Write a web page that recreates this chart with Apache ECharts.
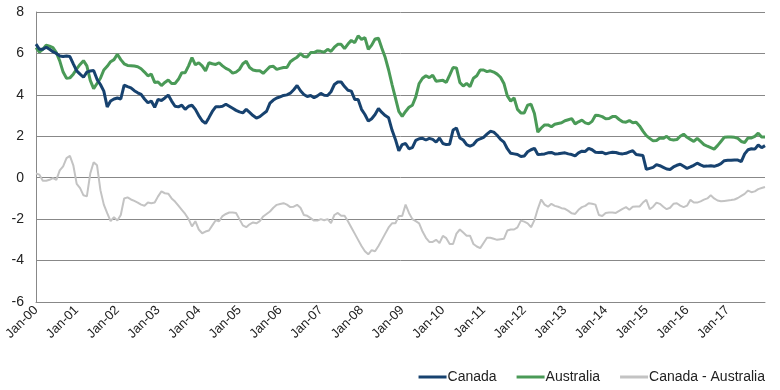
<!DOCTYPE html>
<html>
<head>
<meta charset="utf-8">
<script src="https://cdn.jsdelivr.net/npm/echarts@6/dist/echarts.min.js"></script>
<style>html,body{margin:0;padding:0;background:#fff}#c{width:780px;height:390px}</style>
</head>
<body>
<div id="c"></div>
<script>
const monthNames = ["Jan","Feb","Mar","Apr","May","Jun","Jul","Aug","Sep","Oct","Nov","Dec"];
const years = ["00","01","02","03","04","05","06","07","08","09","10","11","12","13","14","15","16","17"];
const yTicks = [-6, -4, -2, 0, 2, 4, 6, 8];

const canada = [
6.45,6.2,6.2,6.3,6.2,6.08,6.0,5.88,5.85,5.88,5.85,5.5,
5.16,5.0,4.85,5.1,5.15,5.18,4.75,4.5,4.18,3.42,3.7,3.8,
3.85,3.8,4.47,4.4,4.34,4.2,4.1,4.02,3.8,3.62,3.7,3.4,
3.78,3.73,3.85,3.99,3.7,3.45,3.42,3.5,3.3,3.45,3.5,3.3,
3.0,2.75,2.62,2.9,3.2,3.42,3.42,3.45,3.55,3.45,3.35,3.25,
3.18,3.13,3.3,3.15,3.0,2.88,2.95,3.08,3.21,3.6,3.75,3.85,
3.9,3.97,4.0,4.08,4.25,4.45,4.2,4.02,3.92,3.97,3.86,3.95,
4.07,3.98,3.97,4.15,4.5,4.62,4.62,4.4,4.22,4.18,3.78,3.78,
3.3,3.05,2.73,2.85,3.05,3.34,3.15,3.0,2.89,2.3,1.85,1.3,
1.6,1.65,1.4,1.45,1.8,1.88,1.9,1.82,1.9,1.85,1.72,1.92,
1.65,1.6,1.62,2.3,2.4,1.92,1.82,1.6,1.52,1.6,1.8,1.88,
1.95,2.1,2.24,2.2,2.05,1.85,1.72,1.4,1.18,1.15,1.12,1.02,
1.05,1.25,1.35,1.42,1.12,1.13,1.15,1.2,1.22,1.15,1.16,1.18,
1.2,1.15,1.12,1.05,1.2,1.28,1.27,1.42,1.35,1.23,1.22,1.23,
1.15,1.2,1.23,1.22,1.17,1.15,1.18,1.25,1.3,1.12,1.1,1.07,
0.4,0.45,0.5,0.63,0.58,0.5,0.42,0.4,0.52,0.6,0.65,0.55,
0.45,0.52,0.6,0.7,0.62,0.55,0.56,0.58,0.55,0.6,0.68,0.82,
0.84,0.84,0.86,0.85,0.78,1.15,1.35,1.4,1.38,1.58,1.45,1.55
];

const australia = [
6.28,6.07,6.2,6.4,6.35,6.28,6.04,5.64,5.1,4.8,4.82,5.0,
5.25,5.47,5.65,5.4,4.7,4.3,4.55,4.8,5.2,5.38,5.6,5.7,
5.96,5.7,5.5,5.42,5.41,5.39,5.36,5.26,5.1,4.92,5.0,4.6,
4.62,4.45,4.6,4.72,4.55,4.55,4.75,5.07,5.07,5.4,5.8,5.45,
5.55,5.4,5.16,5.55,5.5,5.47,5.55,5.4,5.28,5.2,5.05,5.1,
5.23,5.5,5.62,5.32,5.2,5.16,5.16,5.04,5.2,5.36,5.38,5.23,
5.28,5.32,5.32,5.6,5.72,5.82,5.99,5.85,5.83,6.04,6.04,6.12,
6.1,6.06,6.2,6.1,6.3,6.44,6.44,6.23,6.45,6.63,6.52,6.85,
6.68,6.76,6.2,6.4,6.7,6.73,6.25,5.8,5.2,4.5,3.85,3.2,
2.96,3.2,3.4,3.5,3.9,4.55,4.8,4.92,4.83,4.95,4.66,4.68,
4.7,4.6,4.95,5.32,5.3,4.6,4.43,4.55,4.4,4.8,4.92,5.2,
5.2,5.12,5.16,5.1,5.0,4.85,4.55,3.95,3.7,3.85,3.3,3.13,
3.13,3.5,3.55,3.1,2.2,2.4,2.55,2.55,2.46,2.58,2.62,2.65,
2.75,2.8,2.85,2.6,2.7,2.78,2.65,2.6,2.72,3.02,3.0,2.95,
2.85,2.86,2.95,2.95,2.81,2.7,2.68,2.76,2.65,2.68,2.5,2.25,
2.03,1.9,1.78,1.8,1.92,1.9,2.0,1.85,1.82,1.84,2.0,2.1,
1.95,1.85,1.75,1.9,1.75,1.6,1.52,1.45,1.38,1.55,1.75,1.95,
1.97,1.97,1.95,1.9,1.75,1.7,1.92,1.92,2.0,2.15,1.97,1.97
];

const difference = [
0.2,0.15,-0.15,-0.15,-0.1,-0.02,-0.1,0.35,0.55,0.95,1.05,0.6,
-0.3,-0.5,-0.85,-0.9,0.2,0.75,0.6,-0.6,-1.3,-1.71,-2.1,-1.9,
-2.07,-1.8,-1.0,-0.95,-1.05,-1.12,-1.2,-1.3,-1.35,-1.2,-1.23,-1.2,
-0.9,-0.66,-0.75,-0.77,-1.0,-1.15,-1.35,-1.55,-1.75,-2.0,-2.35,-2.1,
-2.5,-2.68,-2.6,-2.55,-2.3,-2.05,-2.1,-1.85,-1.75,-1.68,-1.68,-1.7,
-2.0,-2.3,-2.39,-2.25,-2.16,-2.2,-2.1,-1.87,-1.75,-1.63,-1.45,-1.31,
-1.27,-1.23,-1.3,-1.42,-1.4,-1.31,-1.45,-1.8,-1.84,-1.95,-2.07,-2.07,
-2.0,-2.05,-2.0,-2.19,-1.8,-1.7,-1.84,-1.84,-2.1,-2.4,-2.7,-3.0,
-3.3,-3.55,-3.7,-3.5,-3.55,-3.3,-3.0,-2.7,-2.4,-2.2,-2.2,-1.85,
-1.85,-1.3,-1.7,-2.0,-2.1,-2.2,-2.6,-2.9,-3.1,-3.1,-3.0,-3.15,
-2.81,-2.92,-3.2,-3.2,-2.7,-2.5,-2.65,-2.8,-2.8,-3.2,-3.32,-3.4,
-3.15,-2.9,-2.9,-2.95,-3.0,-2.97,-2.95,-2.55,-2.5,-2.5,-2.4,-2.07,
-2.12,-2.2,-2.39,-2.05,-1.5,-1.05,-1.3,-1.4,-1.26,-1.36,-1.4,-1.47,
-1.5,-1.6,-1.72,-1.75,-1.55,-1.42,-1.36,-1.23,-1.26,-1.3,-1.8,-1.85,
-1.7,-1.68,-1.68,-1.7,-1.6,-1.5,-1.42,-1.55,-1.4,-1.39,-1.39,-1.2,
-1.07,-1.52,-1.4,-1.2,-1.26,-1.4,-1.52,-1.45,-1.26,-1.23,-1.35,-1.42,
-1.35,-1.07,-1.2,-1.2,-1.14,-1.06,-1.0,-0.85,-1.0,-1.1,-1.14,-1.12,
-1.1,-1.08,-1.05,-0.98,-0.88,-0.78,-0.62,-0.7,-0.66,-0.55,-0.5,-0.45
];

const categories = [];
years.forEach(y => monthNames.forEach(m => categories.push(m + "-" + y)));

const FONT = "'Liberation Sans Narrow', 'Arial Narrow', 'Liberation Sans', sans-serif";
const LINE_ICON = 'path://M0,0 L28,0 L28,3 L0,3 Z';
const chart = echarts.init(document.getElementById('c'), null, {renderer: 'canvas'});
chart.setOption({
  animation: false,
  backgroundColor: '#ffffff',
  grid: {left: 36, right: 15, top: 12, bottom: 88, containLabel: false},
  legend: {
    right: 10, bottom: 1,
    icon: LINE_ICON,
    itemWidth: 28, itemHeight: 3, itemGap: 20,
    textStyle: {fontFamily: FONT, fontSize: 14, color: '#222', padding: [0, 0, 0, -4]},
    data: ['Canada', 'Australia', 'Canada - Australia']
  },
  xAxis: {
    type: 'category',
    data: categories,
    boundaryGap: false,
    axisLine: {onZero: false, lineStyle: {color: '#888', width: 1}},
    axisTick: {show: false},
    axisLabel: {
      interval: 11, rotate: 45, margin: 6,
      fontFamily: FONT, fontSize: 13, color: '#222'
    },
    splitLine: {show: false}
  },
  yAxis: {
    type: 'value',
    min: -6, max: 8, interval: 2,
    axisLine: {show: true, lineStyle: {color: '#888', width: 1}},
    axisTick: {show: false},
    axisLabel: {fontFamily: FONT, fontSize: 14, color: '#222', margin: 12,
      formatter: v => yTicks.includes(v) ? String(v) : ''},
    splitLine: {show: true, lineStyle: {color: '#888', width: 1}}
  },
  series: [
    {name: 'Canada - Australia', type: 'line', data: difference, symbol: 'none',
     lineStyle: {color: '#c3c3c3', width: 2}, itemStyle: {color: '#c3c3c3'}, z: 2},
    {name: 'Australia', type: 'line', data: australia, symbol: 'none',
     lineStyle: {color: '#4a9a57', width: 3}, itemStyle: {color: '#4a9a57'}, z: 3},
    {name: 'Canada', type: 'line', data: canada, symbol: 'none',
     lineStyle: {color: '#17426f', width: 3}, itemStyle: {color: '#17426f'}, z: 4}
  ]
});
</script>
</body>
</html>
